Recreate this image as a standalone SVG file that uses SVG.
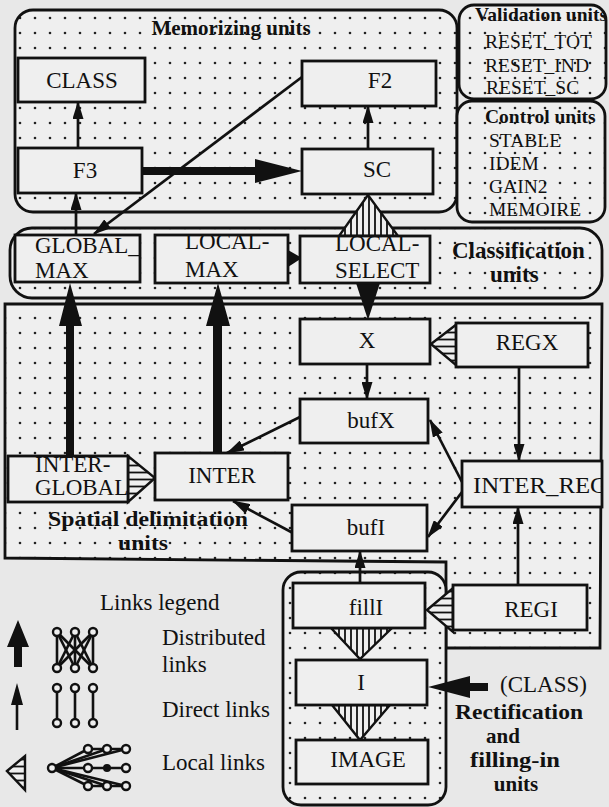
<svg xmlns="http://www.w3.org/2000/svg" width="609" height="807" viewBox="0 0 609 807">
<style>
.bg{fill:#e8e8e8}
.box{fill:#efefef;stroke:#111;stroke-width:2.8}
.reg{fill:url(#dots);stroke:#111;stroke-width:2.8}
.ln{fill:none;stroke:#111;stroke-width:2.6}
.arr{fill:none;stroke:#111;stroke-width:2.7;marker-end:url(#ah)}
.blk{fill:#111;stroke:none}
.vh{fill:url(#vs);stroke:#111;stroke-width:2.4}
.hh{fill:url(#hs);stroke:#111;stroke-width:2.4}
.t{font-family:"Liberation Serif","Times New Roman",serif;font-size:23px;fill:#111}
.s{font-size:19.5px}
.b{font-weight:bold}
.c{fill:#efefef;stroke:#111;stroke-width:2.4}
</style>
<defs>
<pattern id="dots" width="15" height="15" patternUnits="userSpaceOnUse">
<rect width="15" height="15" fill="#efefef"/>
<circle cx="5" cy="3" r="1.3" fill="#222"/>
</pattern>
<pattern id="vs" width="6" height="6" patternUnits="userSpaceOnUse">
<rect width="6" height="6" fill="#efefef"/>
<line x1="3" y1="0" x2="3" y2="6" stroke="#111" stroke-width="1.8"/>
</pattern>
<pattern id="hs" width="7" height="7" patternUnits="userSpaceOnUse">
<rect width="7" height="7" fill="#efefef"/>
<line x1="0" y1="3.5" x2="7" y2="3.5" stroke="#111" stroke-width="1.8"/>
</pattern>
<marker id="ah" viewBox="0 0 18 11" refX="17" refY="5.5" markerWidth="18" markerHeight="11" markerUnits="userSpaceOnUse" orient="auto">
<path d="M0,0 L18,5.5 L0,11 Z" fill="#111"/>
</marker>
<clipPath id="vclip"><rect x="459" y="0" width="146" height="100"/></clipPath>
<clipPath id="irclip"><rect x="462" y="455" width="139" height="60"/></clipPath>
</defs>
<rect class="bg" width="609" height="807"/>

<g id="regions">
<g id="memorizing-units">
<rect class="reg" x="15" y="10" width="442" height="202" rx="18"/>
<text class="t b" x="231" y="35" text-anchor="middle" style="font-size:21px">Memorizing units</text>
</g>
<g id="validation-units">
<rect class="reg" x="459" y="5" width="147" height="94" rx="15"/>
<text class="t b" x="475" y="21" clip-path="url(#vclip)" style="font-size:19.5px">Validation units</text>
<text class="t s" x="485" y="48">RESET_TOT</text>
<text class="t s" x="485" y="72">RESET_IND</text>
<text class="t s" x="486" y="94">RESET_SC</text>
</g>
<g id="control-units">
<rect class="reg" x="457" y="101" width="148" height="121" rx="15"/>
<text class="t b s" x="485" y="123">Control units</text>
<text class="t s" x="489" y="147">STABLE</text>
<text class="t s" x="489" y="170">IDEM</text>
<text class="t s" x="489" y="193">GAIN2</text>
<text class="t s" x="489" y="216">MEMOIRE</text>
</g>
<g id="classification-units">
<rect class="reg" x="10" y="228" width="592" height="70" rx="22"/>
<text class="t b" x="452" y="258">Classification</text>
<text class="t b" x="490" y="282">units</text>
</g>
<g id="spatial-delimitation-units">
<path class="reg" d="M5,304 L602,304 L600,648 L446,648 L446,562 L5,558 Z"/>
<text class="t b" x="48" y="526" style="font-size:21px" textLength="200" lengthAdjust="spacingAndGlyphs">Spatial delimitation</text>
<text class="t b" x="118" y="550" style="font-size:21px" textLength="50" lengthAdjust="spacingAndGlyphs">units</text>
</g>
<g id="rectification-units">
<rect class="reg" x="283" y="572" width="163" height="233" rx="18"/>
<text class="t b" x="455" y="719" style="font-size:21px" textLength="128" lengthAdjust="spacingAndGlyphs">Rectification</text>
<text class="t b" x="503" y="743" text-anchor="middle" style="font-size:21px">and</text>
<text class="t b" x="470" y="767" style="font-size:21px" textLength="90" lengthAdjust="spacingAndGlyphs">filling-in</text>
<text class="t b" x="516" y="791" text-anchor="middle" style="font-size:21px">units</text>
</g>
</g>

<g id="connectors">
<line class="arr" x1="78" y1="148" x2="78" y2="102"/>
<line class="arr" x1="76" y1="235" x2="76" y2="193"/>
<line class="arr" x1="368" y1="149" x2="368" y2="106"/>
<line class="arr" x1="302" y1="77" x2="94" y2="234"/>
<path class="blk" d="M142,167 L255,167 L255,159 L302,171 L255,183 L255,175 L142,175 Z"/>
<polygon class="vh" points="368,195 339,236 398,236"/>
<polygon class="blk" points="288,250 288,267 302,258"/>
<polygon class="blk" points="356,283 380,283 368,320"/>
<path class="blk" d="M66,456 L66,326 L59,326 L70,283 L82,326 L74,326 L74,456 Z"/>
<path class="blk" d="M213,453 L213,326 L206,326 L218,283 L230,326 L222,326 L222,453 Z"/>
<line class="arr" x1="367" y1="364" x2="367" y2="399"/>
<polygon class="hh" points="431,344 457,324 457,366"/>
<line class="arr" x1="519" y1="367" x2="519" y2="461"/>
<line class="arr" x1="518" y1="585" x2="518" y2="507"/>
<line class="arr" x1="462" y1="482" x2="430" y2="420"/>
<line class="arr" x1="462" y1="492" x2="428" y2="537"/>
<line class="arr" x1="300" y1="417" x2="227" y2="453"/>
<line class="arr" x1="293" y1="533" x2="233" y2="501"/>
<polygon class="hh" points="128,456 128,502 155,478"/>
<line class="arr" x1="360" y1="583" x2="360" y2="551"/>
<polygon class="hh" points="427,610 453,588 453,632"/>
<polygon class="vh" points="331,628 392,628 360,659"/>
<polygon class="vh" points="332,705 390,705 360,740"/>
<path class="blk" d="M488,683 L470,683 L470,676 L428,687 L470,698 L470,691 L488,691 Z"/>
</g>

<g id="nodes">
<g id="CLASS"><rect class="box" x="18" y="58" width="127" height="44"/><text class="t" x="82" y="88" text-anchor="middle">CLASS</text></g>
<g id="F3"><rect class="box" x="18" y="148" width="124" height="45"/><text class="t" x="85" y="178" text-anchor="middle">F3</text></g>
<g id="F2"><rect class="box" x="302" y="61" width="134" height="45"/><text class="t" x="380" y="88" text-anchor="middle">F2</text></g>
<g id="SC"><rect class="box" x="302" y="149" width="131" height="45"/><text class="t" x="377" y="177" text-anchor="middle">SC</text></g>
<g id="GLOBAL_MAX"><rect class="box" x="15" y="235" width="125" height="47"/><text class="t" x="35" y="253">GLOBAL_</text><text class="t" x="35" y="278">MAX</text></g>
<g id="LOCAL-MAX"><rect class="box" x="155" y="235" width="133" height="48"/><text class="t" x="185" y="249">LOCAL-</text><text class="t" x="185" y="277">MAX</text></g>
<g id="LOCAL-SELECT"><rect class="box" x="300" y="236" width="130" height="47"/><text class="t" x="335" y="251">LOCAL-</text><text class="t" x="335" y="278">SELECT</text></g>
<g id="X"><rect class="box" x="300" y="319" width="130" height="45"/><text class="t" x="367" y="348" text-anchor="middle">X</text></g>
<g id="REGX"><rect class="box" x="456" y="323" width="132" height="44"/><text class="t" x="527" y="350" text-anchor="middle">REGX</text></g>
<g id="bufX"><rect class="box" x="300" y="399" width="128" height="44"/><text class="t" x="371" y="428" text-anchor="middle">bufX</text></g>
<g id="INTER_REG"><rect class="box" x="462" y="461" width="140" height="46"/><text class="t" x="473" y="493" clip-path="url(#irclip)" textLength="135" lengthAdjust="spacingAndGlyphs">INTER_REG</text></g>
<g id="INTER"><rect class="box" x="155" y="453" width="133" height="47"/><text class="t" x="222" y="483" text-anchor="middle">INTER</text></g>
<g id="INTER-GLOBAL"><rect class="box" x="8" y="456" width="120" height="46"/><text class="t" x="35" y="472">INTER-</text><text class="t" x="35" y="495">GLOBAL</text></g>
<g id="bufI"><rect class="box" x="292" y="505" width="135" height="46"/><text class="t" x="366" y="535" text-anchor="middle">bufI</text></g>
<g id="fillI"><rect class="box" x="293" y="583" width="132" height="45"/><text class="t" x="366" y="615" text-anchor="middle">fillI</text></g>
<g id="REGI"><rect class="box" x="453" y="585" width="134" height="45"/><text class="t" x="531" y="617" text-anchor="middle">REGI</text></g>
<g id="I"><rect class="box" x="296" y="660" width="131" height="45"/><text class="t" x="361" y="690" text-anchor="middle">I</text></g>
<g id="IMAGE"><rect class="box" x="296" y="740" width="132" height="44"/><text class="t" x="368" y="767" text-anchor="middle">IMAGE</text></g>
<g id="CLASS-input"><text class="t" x="500" y="692">(CLASS)</text></g>
</g>

<g id="legend">
<text class="t" x="100" y="610">Links legend</text>
<path class="blk" d="M14,667 L14,647 L7,647 L18,620 L29,647 L22,647 L22,667 Z"/>
<line class="ln" x1="17" y1="730" x2="17" y2="700"/>
<path class="blk" d="M11,705 L17,683 L23,705 Z"/>
<polygon class="hh" points="7,771 25,756 25,790"/>
<g class="ln">
<line x1="57" y1="632" x2="57" y2="668"/><line x1="57" y1="632" x2="75" y2="668"/><line x1="57" y1="632" x2="93" y2="668"/>
<line x1="75" y1="632" x2="57" y2="668"/><line x1="75" y1="632" x2="75" y2="668"/><line x1="75" y1="632" x2="93" y2="668"/>
<line x1="93" y1="632" x2="57" y2="668"/><line x1="93" y1="632" x2="75" y2="668"/><line x1="93" y1="632" x2="93" y2="668"/>
<line x1="57" y1="688" x2="57" y2="723"/><line x1="75" y1="688" x2="75" y2="723"/><line x1="93" y1="688" x2="93" y2="723"/>
<line x1="52" y1="768" x2="88" y2="749"/><line x1="52" y1="768" x2="107" y2="749"/><line x1="52" y1="768" x2="126" y2="749"/>
<line x1="52" y1="768" x2="126" y2="768"/>
<line x1="52" y1="768" x2="88" y2="786"/><line x1="52" y1="768" x2="107" y2="786"/><line x1="52" y1="768" x2="126" y2="786"/>
<line x1="88" y1="749" x2="126" y2="749"/><line x1="88" y1="786" x2="126" y2="786"/>
</g>
<g>
<circle class="c" cx="57" cy="632" r="4"/><circle class="c" cx="75" cy="632" r="4"/><circle class="c" cx="93" cy="632" r="4"/>
<circle class="c" cx="57" cy="668" r="4"/><circle class="c" cx="75" cy="668" r="4"/><circle class="c" cx="93" cy="668" r="4"/>
<circle class="c" cx="57" cy="688" r="4"/><circle class="c" cx="75" cy="688" r="4"/><circle class="c" cx="93" cy="688" r="4"/>
<circle class="c" cx="57" cy="723" r="4"/><circle class="c" cx="75" cy="723" r="4"/><circle class="c" cx="93" cy="723" r="4"/>
<circle class="c" cx="52" cy="768" r="4"/>
<circle class="c" cx="88" cy="749" r="4"/><circle class="c" cx="107" cy="749" r="4"/><circle class="c" cx="126" cy="749" r="4"/>
<circle class="c" cx="88" cy="768" r="4"/><circle cx="107" cy="768" r="4" fill="#111"/><circle class="c" cx="126" cy="768" r="4"/>
<circle class="c" cx="88" cy="786" r="4"/><circle class="c" cx="107" cy="786" r="4"/><circle class="c" cx="126" cy="786" r="4"/>
</g>
<text class="t" x="162" y="645">Distributed</text>
<text class="t" x="162" y="672">links</text>
<text class="t" x="162" y="717">Direct links</text>
<text class="t" x="162" y="770">Local links</text>
</g>
</svg>
